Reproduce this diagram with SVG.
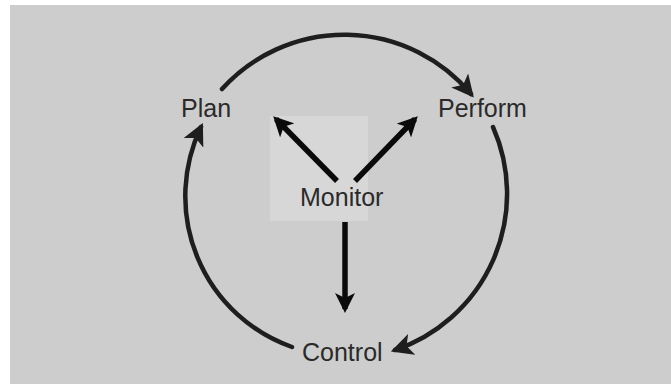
<svg xmlns="http://www.w3.org/2000/svg" width="671" height="384" viewBox="0 0 671 384">
<style>
.lbl{font-family:"Liberation Sans",Arial,sans-serif;font-size:25px;fill:#2a2a2a}
.cyc{fill:none;stroke:#1e1e1e;stroke-width:4.5;stroke-linecap:round}
.mon{fill:none;stroke:#0a0a0a;stroke-width:5.5}
</style>
<defs>
<marker id="ahc" viewBox="0 0 10 10" refX="8" refY="5" markerWidth="22" markerHeight="22" orient="auto" markerUnits="userSpaceOnUse">
<path d="M0,0 L10,5 L0,10 L2.5,5 z" fill="#1e1e1e"/>
</marker>
<marker id="ahm" viewBox="0 0 10 10" refX="8" refY="5" markerWidth="20" markerHeight="20" orient="auto" markerUnits="userSpaceOnUse">
<path d="M0,0 L10,5 L0,10 L2.5,5 z" fill="#0a0a0a"/>
</marker>
</defs>
<rect x="0" y="0" width="671" height="384" fill="#ffffff"/>
<rect x="10" y="5" width="661" height="379" fill="#cdcdcd"/>
<g id="connectors">
<path class="cyc" d="M222,89 A165,165 0 0 1 471,94" marker-end="url(#ahc)"/>
<path class="cyc" d="M493,127 A165,165 0 0 1 395,350" marker-end="url(#ahc)"/>
<path class="cyc" d="M292,347 A160,160 0 0 1 201,127" marker-end="url(#ahc)"/>
</g>
<g id="monitor">
<rect x="270" y="116" width="98" height="105" fill="#d7d7d7"/>
<text class="lbl" x="300" y="206" fill="#111">Monitor</text>
</g>
<g id="monitor-arrows">
<line class="mon" x1="337" y1="181" x2="276" y2="119" marker-end="url(#ahm)"/>
<line class="mon" x1="355" y1="181" x2="415" y2="119" marker-end="url(#ahm)"/>
<line class="mon" x1="345" y1="222" x2="345" y2="309" marker-end="url(#ahm)"/>
</g>
<g id="plan"><text class="lbl" x="181" y="117">Plan</text></g>
<g id="perform"><text class="lbl" x="438" y="117">Perform</text></g>
<g id="control"><text class="lbl" x="302" y="361">Control</text></g>
</svg>
